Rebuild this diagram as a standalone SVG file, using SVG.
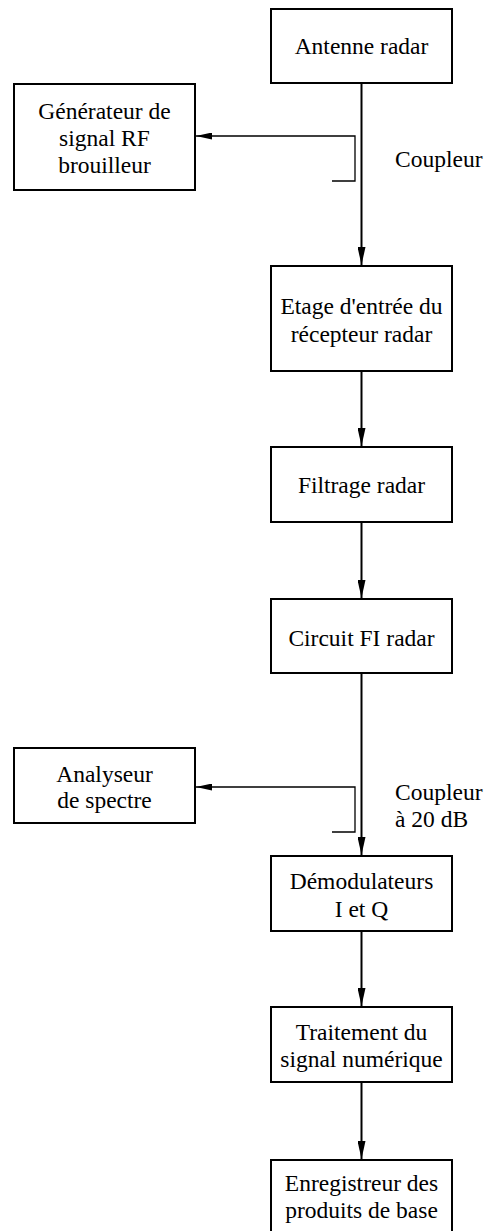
<svg xmlns="http://www.w3.org/2000/svg" width="485" height="1231" viewBox="0 0 485 1231">
<style>
.box{fill:#fff;stroke:#000;stroke-width:2}
.t{font-family:'Liberation Serif','Times New Roman',Tinos,'DejaVu Serif',serif;font-size:23.5px;fill:#000}
.c{text-anchor:middle}
.main{stroke:#000;stroke-width:2;fill:none}
.thin{stroke:#000;stroke-width:1.3;fill:none}
</style>
<defs>
<marker id="ah" viewBox="0 0 18 8" refX="18" refY="4" markerWidth="18" markerHeight="8" markerUnits="userSpaceOnUse" orient="auto">
<path d="M0,0 L18,4 L0,8 Z" fill="#000"/>
</marker>
<marker id="ahs" viewBox="0 0 16 7" refX="16" refY="3.5" markerWidth="16" markerHeight="7" markerUnits="userSpaceOnUse" orient="auto">
<path d="M0,0 L16,3.5 L0,7 Z" fill="#000"/>
</marker>
</defs>
<g id="connectors">
<line class="main" x1="361.5" y1="83" x2="361.5" y2="265" marker-end="url(#ah)"/>
<line class="main" x1="361.5" y1="371" x2="361.5" y2="446" marker-end="url(#ah)"/>
<line class="main" x1="361.5" y1="522" x2="361.5" y2="598" marker-end="url(#ah)"/>
<line class="main" x1="361.5" y1="673" x2="361.5" y2="855" marker-end="url(#ah)"/>
<line class="main" x1="361.5" y1="931" x2="361.5" y2="1006" marker-end="url(#ah)"/>
<line class="main" x1="361.5" y1="1082" x2="361.5" y2="1159" marker-end="url(#ah)"/>
<polyline class="thin" points="332,181 355,181 355,136 196,136" marker-end="url(#ahs)"/>
<polyline class="thin" points="332,832 355,832 355,787 196,787" marker-end="url(#ahs)"/>
</g>
<g id="antenne">
<rect class="box" x="271" y="9" width="181" height="74"/>
<text class="t c" font-family="Liberation Serif, serif" x="361.5" y="54">Antenne radar</text>
</g>
<g id="generateur">
<rect class="box" x="14" y="84" width="181" height="106"/>
<text class="t c" x="104.5" y="119">Générateur de</text>
<text class="t c" x="104.5" y="146">signal RF</text>
<text class="t c" x="104.5" y="173">brouilleur</text>
</g>
<g id="coupleur1">
<text class="t" x="395" y="167">Coupleur</text>
</g>
<g id="etage">
<rect class="box" x="271" y="266" width="181" height="105"/>
<text class="t c" x="361.5" y="314">Etage d'entrée du</text>
<text class="t c" x="361.5" y="342">récepteur radar</text>
</g>
<g id="filtrage">
<rect class="box" x="271" y="447" width="181" height="75"/>
<text class="t c" x="361.5" y="493">Filtrage radar</text>
</g>
<g id="circuit">
<rect class="box" x="271" y="599" width="181" height="74"/>
<text class="t c" x="361.5" y="646">Circuit FI radar</text>
</g>
<g id="analyseur">
<rect class="box" x="14" y="748" width="181" height="75"/>
<text class="t c" x="104.5" y="782">Analyseur</text>
<text class="t c" x="104.5" y="808">de spectre</text>
</g>
<g id="coupleur2">
<text class="t" x="395" y="800">Coupleur</text>
<text class="t" x="395" y="827">à 20 dB</text>
</g>
<g id="demodulateurs">
<rect class="box" x="271" y="856" width="181" height="75"/>
<text class="t c" x="361.5" y="889">Démodulateurs</text>
<text class="t c" x="361.5" y="917">I et Q</text>
</g>
<g id="traitement">
<rect class="box" x="271" y="1007" width="181" height="75"/>
<text class="t c" x="361.5" y="1040">Traitement du</text>
<text class="t c" x="361.5" y="1067">signal numérique</text>
</g>
<g id="enregistreur">
<rect class="box" x="271" y="1160" width="181" height="80"/>
<text class="t c" x="361.5" y="1191">Enregistreur des</text>
<text class="t c" x="361.5" y="1218">produits de base</text>
</g>
</svg>
